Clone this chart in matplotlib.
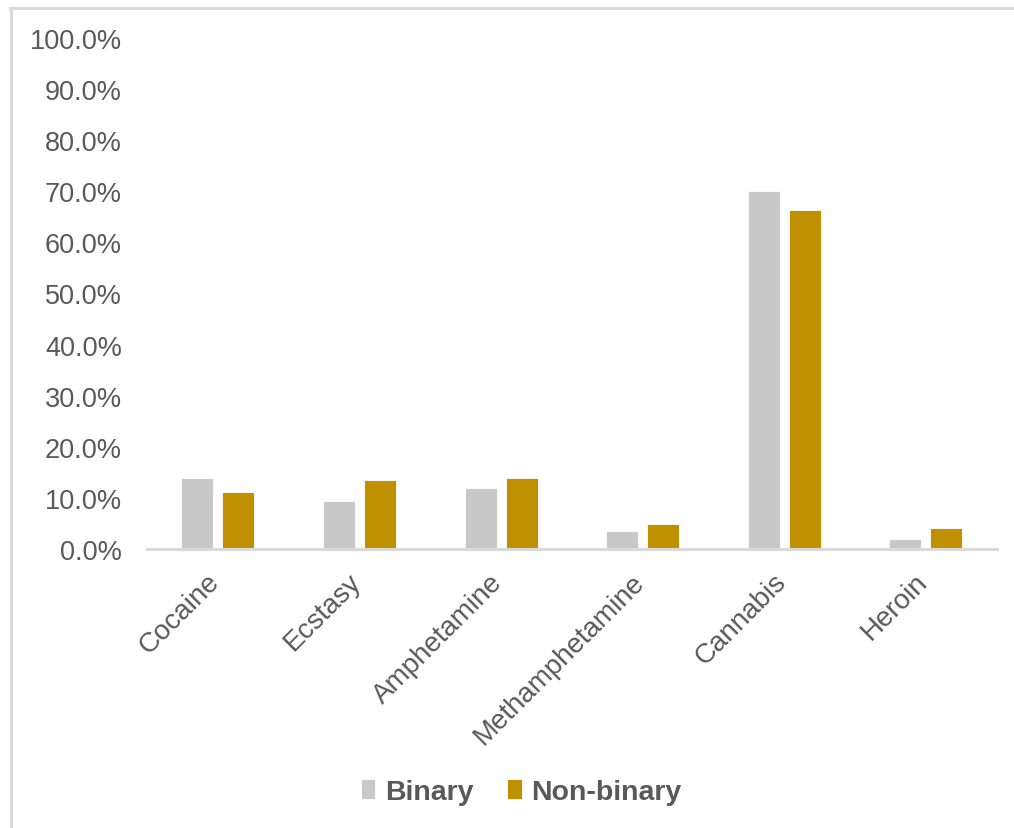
import numpy as np
import matplotlib
matplotlib.use('Agg')
import matplotlib.pyplot as plt
import matplotlib.transforms as mtransforms
from matplotlib.lines import Line2D
from matplotlib.ticker import PercentFormatter

# values (percent)
drugs = ['Cocaine', 'Ecstasy', 'Amphetamine', 'Methamphetamine', 'Cannabis', 'Heroin']
binary = [13.8, 9.3, 12.0, 3.6, 70.1, 1.9]
non_binary = [11.1, 13.5, 13.8, 4.9, 66.4, 4.1]
series_names = ['Binary', 'Non-binary']
colors = ['#C8C8C8', '#BF9000']

text_grey = '#595959'
plt.rcParams['font.family'] = ['Liberation Sans', 'DejaVu Sans']

fig = plt.figure(figsize=(10.14, 8.29), dpi=100, facecolor='white')
ax = fig.add_axes([0.145, 0.3366, 0.838, 0.6164])

x = np.arange(len(drugs))
w = 0.226
off = 0.145
ax.bar(x - off, binary, width=w, color=colors[0], edgecolor='white', linewidth=0.6, label=series_names[0])
ax.bar(x + off, non_binary, width=w, color=colors[1], edgecolor='white', linewidth=0.6, label=series_names[1])

ax.set_xlim(-0.5, len(drugs) - 0.5)
ax.set_ylim(0, 100)
ax.set_yticks(np.arange(0, 101, 10))
ax.yaxis.set_major_formatter(PercentFormatter(100, decimals=1))
ax.tick_params(axis='y', length=0, pad=18, labelsize=19.5, labelcolor=text_grey)
ax.set_xticks(x)
ax.set_xticklabels(drugs, rotation=45, ha='right', va='top', fontsize=20, color=text_grey)
ax.tick_params(axis='x', length=0, pad=14)
# nudge the slanted labels a little to the right, like the original
shift = mtransforms.ScaledTranslation(7 / 100, 0, fig.dpi_scale_trans)
for lbl in ax.get_xticklabels():
    lbl.set_transform(lbl.get_transform() + shift)

for s in ['top', 'right', 'left']:
    ax.spines[s].set_visible(False)
ax.spines['bottom'].set_color('#D9D9D9')
ax.spines['bottom'].set_linewidth(2.2)

leg = fig.legend(loc='center', bbox_to_anchor=(0.514, 0.044), ncol=2, frameon=False,
                 handlelength=0.5, handleheight=0.7, handletextpad=0.35, columnspacing=1.2,
                 prop={'size': 20.5, 'weight': 'bold'})
for t in leg.get_texts():
    t.set_color(text_grey)

# light frame along top and left edge
fig.add_artist(Line2D([10 / 1014, 1], [1 - 9 / 829, 1 - 9 / 829], transform=fig.transFigure, color='#D9D9D9', lw=2.2))
fig.add_artist(Line2D([11 / 1014, 11 / 1014], [0, 1 - 9 / 829], transform=fig.transFigure, color='#D9D9D9', lw=2.2))

fig.savefig('out.png', dpi=100, facecolor='white')
